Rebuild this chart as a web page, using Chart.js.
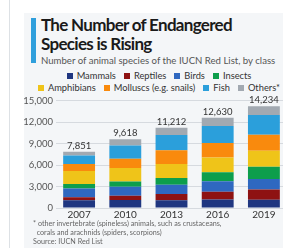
<!DOCTYPE html>
<html>
<head>
    <title>Endangered Species</title>
    <script src="https://cdn.jsdelivr.net/npm/chart.js@4.4.0/dist/chart.umd.min.js"></script>
    <style>
        body { margin: 0; width: 283px; height: 248px; overflow: hidden; background: #fff; font-family: Lato, sans-serif; position: relative; }
        #rule { position: absolute; left: 9px; top: 0; width: 1px; height: 248px; background: #dde1e5; }
        #card { position: absolute; left: 24px; top: 13px; width: 270px; height: 240px; background: #f4f6f8; }
        #accent { position: absolute; left: 31px; top: 18px; width: 5px; height: 45px; background: #2f9fdc; }
        #title { position: absolute; left: 41px; top: 16px; font-size: 17px; letter-spacing: -0.7px; font-weight: bold; line-height: 18.5px; color: #1a1a1a; white-space: nowrap; }
        #subtitle { position: absolute; left: 41px; top: 55px; font-size: 9.6px; color: #555; white-space: nowrap; }
        .legendRow { position: absolute; left: 24px; width: 270px; text-align: center; font-size: 9.3px; color: #333; white-space: nowrap; }
        .legendRow span { margin: 0 4px; }
        .legendRow i { display: inline-block; width: 6px; height: 6px; margin-right: 4px; }
        #chartBox { position: absolute; left: 24px; top: 92px; width: 263px; height: 130px; }
        #notes { position: absolute; left: 33px; top: 219px; font-size: 7.2px; line-height: 9px; color: #666; white-space: nowrap; }
    </style>
</head>
<body>
    <div id="rule"></div>
    <div id="card"></div>
    <div id="accent"></div>
    <div id="title">The Number of Endangered<br>Species is Rising</div>
    <div id="subtitle">Number of animal species of the IUCN Red List, by class</div>
    <div id="legend1" class="legendRow" style="top:70px"></div>
    <div id="legend2" class="legendRow" style="top:82px"></div>
    <div id="chartBox"><canvas id="barChart"></canvas></div>
    <div id="notes">* other invertebrate (spineless) animals, such as crustaceans,<br>&nbsp;&nbsp;corals and arachnids (spiders, scorpions)<br>Source: IUCN Red List</div>

    <script>
        const years = ['2007', '2010', '2013', '2016', '2019'];
        const mammals = [1094, 1131, 1100, 1194, 1150];
        const reptiles = [422, 594, 847, 1079, 1420];
        const birds = [1217, 1240, 1313, 1460, 1480];
        const insects = [623, 733, 950, 1268, 1700];
        const amphibians = [1808, 1898, 1950, 2068, 2240];
        const molluscs = [978, 1288, 1900, 2030, 2250];
        const fish = [1201, 1851, 2150, 2370, 2760];
        const others = [508, 883, 1002, 1161, 1234];
        const yTicks = [0, 3000, 6000, 9000, 12000, 15000];

        const seriesNames = ['Mammals', 'Reptiles', 'Birds', 'Insects', 'Amphibians', 'Molluscs (e.g. snails)', 'Fish', 'Others*'];
        const seriesData = [mammals, reptiles, birds, insects, amphibians, molluscs, fish, others];
        const seriesColors = ['#1f3680', '#8e1212', '#2f68c0', '#0d9e4c', '#efc419', '#f98a0d', '#2b9fdb', '#a2a9b1'];

        const totals = years.map((y, i) => seriesData.reduce((s, arr) => s + arr[i], 0));

        // html legend, two rows of four like the original
        function legendItem(i) {
            return '<span><i style="background:' + seriesColors[i] + '"></i>' + seriesNames[i] + '</span>';
        }
        document.getElementById('legend1').innerHTML = [0, 1, 2, 3].map(legendItem).join('');
        document.getElementById('legend2').innerHTML = [4, 5, 6, 7].map(legendItem).join('');

        const totalLabels = {
            id: 'totalLabels',
            afterDatasetsDraw(chart) {
                const ctx = chart.ctx;
                const top = chart.getDatasetMeta(seriesData.length - 1);
                ctx.save();
                ctx.font = '9.5px Lato';
                ctx.fillStyle = '#333';
                ctx.textAlign = 'center';
                ctx.textBaseline = 'alphabetic';
                top.data.forEach((bar, i) => {
                    ctx.fillText(totals[i].toLocaleString('en-US'), bar.x, bar.y - 3);
                });
                ctx.restore();
            }
        };

        const ctx = document.getElementById('barChart').getContext('2d');
        new Chart(ctx, {
            type: 'bar',
            data: {
                labels: years,
                datasets: seriesData.map((d, i) => ({
                    label: seriesNames[i],
                    data: d,
                    backgroundColor: seriesColors[i],
                    categoryPercentage: 1,
                    barPercentage: 0.69
                }))
            },
            options: {
                responsive: true,
                maintainAspectRatio: false,
                animation: false,
                layout: { padding: { top: 4, right: 0, left: 0, bottom: 0 } },
                plugins: { legend: { display: false }, tooltip: { enabled: false } },
                scales: {
                    x: {
                        stacked: true,
                        grid: { display: false, drawTicks: false },
                        border: { display: false },
                        ticks: { color: '#333', font: { family: 'Lato', size: 10 }, padding: 1 }
                    },
                    y: {
                        stacked: true,
                        min: 0,
                        max: 15000,
                        afterFit(scale) { scale.width = 32; },
                        afterBuildTicks(scale) { scale.ticks = yTicks.map(v => ({ value: v })); },
                        grid: { color: '#d6dadf', drawTicks: false },
                        border: { display: false },
                        ticks: {
                            color: '#555',
                            font: { family: 'Lato', size: 9.5 },
                            padding: 3,
                            callback: v => v.toLocaleString('en-US')
                        }
                    }
                }
            },
            plugins: [totalLabels]
        });
    </script>
</body>
</html>
